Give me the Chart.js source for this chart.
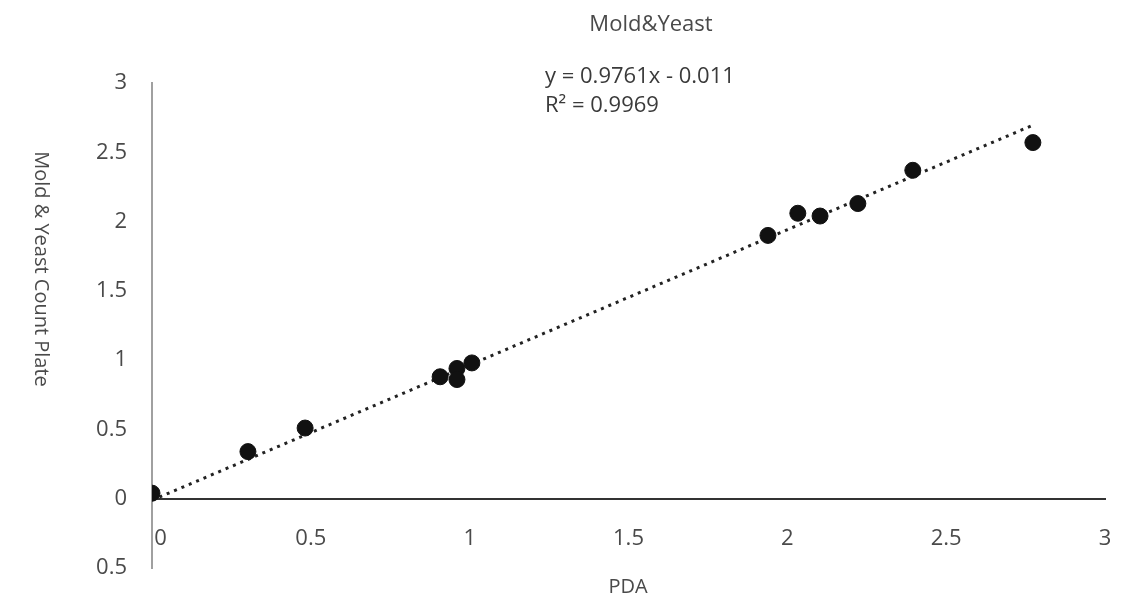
<!DOCTYPE html>
<html>
<head>
<meta charset="utf-8">
<script src="https://cdn.jsdelivr.net/npm/chart.js@4"></script>
<style>
  html, body { margin: 0; padding: 0; background: #fff; }
  #wrap { width: 1135px; height: 604px; position: relative; }
</style>
</head>
<body>
<div id="wrap"><canvas id="scatter"></canvas></div>
<script>
// DATA

const pdaValues = [0, 0.302, 0.482, 0.907, 0.96, 0.96, 1.007, 1.939, 2.033, 2.103, 2.222, 2.395, 2.773];
const plateValues = [0.04, 0.34, 0.51, 0.88, 0.94, 0.86, 0.98, 1.90, 2.06, 2.04, 2.13, 2.37, 2.57];
const trendX = [0, 2.77];
const slope = 0.9761;
const intercept = -0.011;
const xTicks = [0, 0.5, 1, 1.5, 2, 2.5, 3];
const yTicks = [-0.5, 0, 0.5, 1, 1.5, 2, 2.5, 3];

const points = pdaValues.map((x, i) => ({ x: x, y: plateValues[i] }));
const trend = trendX.map(x => ({ x: x, y: slope * x + intercept }));

const FONT = "'Open Sans', 'Noto Sans', sans-serif";
const GREY = '#4a4a4a';

// TEXT (title, equation, axis titles)

const labels = {
  id: 'labels',
  afterDraw(chart) {
    const c = chart.ctx;
    c.save();
    c.fillStyle = GREY;
    c.textBaseline = 'alphabetic';

    c.font = '22px ' + FONT;
    c.textAlign = 'center';
    c.fillText('Mold&Yeast', 651, 31);

    c.fillStyle = '#3a3a3a';
    c.textAlign = 'left';
    c.fillText('y = 0.9761x - 0.011', 545, 83);
    c.fillText('R\u00B2 = 0.9969', 545, 112);

    c.fillStyle = GREY;
    c.font = '20px ' + FONT;
    c.textAlign = 'center';
    c.textBaseline = 'middle';
    c.fillText('PDA', 628, 587);

    c.translate(41, 269);
    c.rotate(Math.PI / 2);
    c.fillText('Mold & Yeast Count Plate', 0, 0);
    c.restore();
  }
};

// SCATTER

const ctx = document.getElementById('scatter');
const chart = new Chart(ctx, {
  type: 'scatter',
  data: {
    datasets: [{
      data: points,
      backgroundColor: '#111',
      borderColor: '#111',
      pointRadius: 8,
      pointHoverRadius: 8,
      order: 1
    }, {
      type: 'line',
      data: trend,
      borderColor: '#222',
      borderWidth: 3,
      borderDash: [3, 5],
      pointRadius: 0,
      fill: false,
      order: 2
    }]
  },
  options: {
    responsive: true,
    maintainAspectRatio: false,
    animation: false,
    layout: {
      padding: { top: 83, right: 30, bottom: 36, left: 0 }
    },
    plugins: {
      legend: { display: false },
      tooltip: { enabled: false }
    },
    scales: {
      x: {
        type: 'linear',
        position: { y: 0 },
        min: 0,
        max: 3,
        afterFit(scale) {
          scale.height = 0;
          scale.paddingLeft = 0;
          scale.paddingRight = 0;
        },
        afterBuildTicks(scale) { scale.ticks = xTicks.map(v => ({ value: v })); },
        grid: { display: false, drawTicks: false },
        border: { display: true, color: '#333', width: 2 },
        ticks: {
          padding: 27,
          color: GREY,
          font: { family: FONT, size: 22 },
          callback: v => v === 0 ? '   0' : String(v)
        }
      },
      y: {
        type: 'linear',
        position: 'left',
        min: -0.5,
        max: 3,
        afterFit(scale) {
          scale.width = 152;
          scale.paddingTop = 0;
          scale.paddingBottom = 0;
        },
        afterBuildTicks(scale) { scale.ticks = yTicks.map(v => ({ value: v })); },
        grid: { display: false, drawTicks: false },
        border: { display: true, color: '#a0a0a0', width: 2 },
        ticks: {
          padding: 25,
          color: GREY,
          font: { family: FONT, size: 22 },
          callback: v => v < 0 ? String(-v) : String(v)
        }
      }
    }
  },
  plugins: [labels]
});
</script>
</body>
</html>
